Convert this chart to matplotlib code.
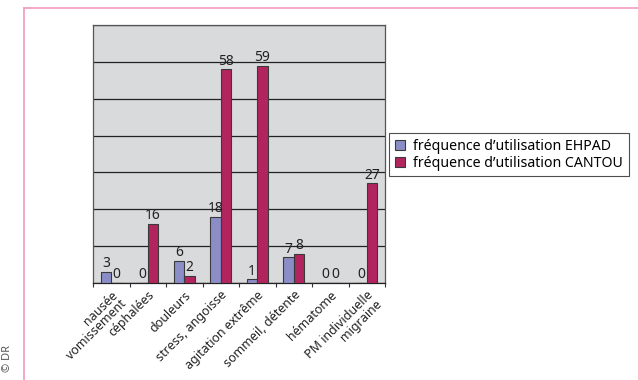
import matplotlib
matplotlib.use("Agg")
import matplotlib.pyplot as plt
from matplotlib.lines import Line2D
import numpy as np

plt.rcParams['font.family'] = ['Noto Sans', 'DejaVu Sans']

categories = ["nausée\nvomissement", "céphalées", "douleurs", "stress, angoisse",
              "agitation extrême", "sommeil, détente", "hématome",
              "PM individuelle\nmigraine"]
ehpad = [3, 0, 6, 18, 1, 7, 0, 0]
cantou = [0, 16, 2, 58, 59, 8, 0, 27]
series_names = ["fréquence d’utilisation EHPAD", "fréquence d’utilisation CANTOU"]

col_ehpad = "#8B8DC6"
col_cantou = "#B2245E"
edge = "#3a3a3a"

fig = plt.figure(figsize=(6.38, 3.80), dpi=100)
ax = fig.add_axes([93/638, 1-283/380, (385-93)/638, (283-25)/380])
ax.set_facecolor("#D9DADC")

x = np.arange(len(categories)) + 0.5
w = 0.29
off = 0.145
b1 = ax.bar(x - off, ehpad, w, color=col_ehpad, edgecolor=edge, linewidth=0.8, zorder=3)
b2 = ax.bar(x + off, cantou, w, color=col_cantou, edgecolor=edge, linewidth=0.8, zorder=3)

for bars, vals in ((b1, ehpad), (b2, cantou)):
    for r, v in zip(bars, vals):
        ax.annotate(str(v), (r.get_x() + r.get_width()/2, v), xytext=(0, 0.5),
                    textcoords="offset points", ha="center", va="bottom",
                    fontsize=10, color="#222222", zorder=4)

ax.set_xlim(0, len(categories))
ax.set_ylim(0, 70)
ax.set_yticks(np.arange(0, 71, 10))
ax.yaxis.grid(True, color="#222222", linewidth=0.9, zorder=1)
ax.tick_params(axis="y", length=0, labelleft=False)

ax.set_xticks(np.arange(0, len(categories) + 1))
ax.set_xticklabels([])
ax.tick_params(axis="x", which="major", length=3, color="#333333", direction="out")
ax.set_xticks(x, minor=True)
ax.set_xticklabels(categories, minor=True, rotation=45, ha="right", va="top",
                   rotation_mode="anchor", multialignment="right", fontsize=9,
                   color="#222222", linespacing=0.95)
ax.tick_params(axis="x", which="minor", length=0, pad=4)

for s in ax.spines.values():
    s.set_color("#555555")
    s.set_linewidth(0.9)
ax.spines["bottom"].set_color("#222222")

leg = fig.legend([b1, b2], series_names, loc="upper left",
                 bbox_to_anchor=(389/638, 1-133/380), frameon=True, fancybox=False,
                 fontsize=10.2, handlelength=0.75, handleheight=0.75, handletextpad=0.55,
                 borderpad=0.4, labelspacing=0.14, borderaxespad=0)
leg.get_frame().set_edgecolor("#222222")
leg.get_frame().set_linewidth(0.8)

# decorative frame lines
fig.add_artist(Line2D([24/638, 1], [1-8/380, 1-8/380], color="#F29ABD", linewidth=1.2))
fig.add_artist(Line2D([24/638, 24/638], [0, 1-8/380], color="#F29ABD", linewidth=1.2))

fig.text(8/638, 1-358/380, "© DR", rotation=90, ha="center", va="center",
         fontsize=8, color="#555555")

fig.savefig("out.png", dpi=100)
